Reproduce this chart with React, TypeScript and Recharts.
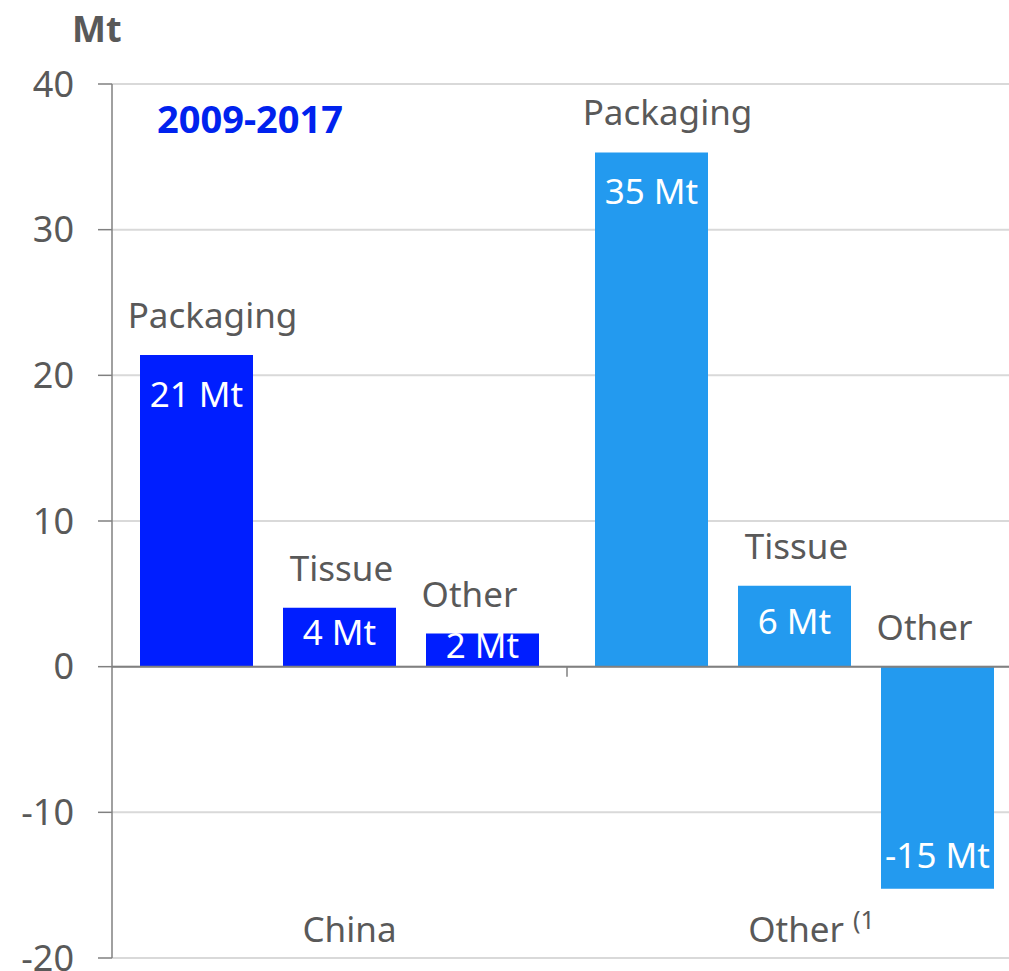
import React from 'react';
import { BarChart, Bar, XAxis, YAxis, CartesianGrid, ReferenceLine, LabelList, Cell } from 'recharts';

const groups = ['China', 'Other'];
const groupNotes = ['', '(1'];
const packaging = [21.4, 35.3];
const tissue = [4.05, 5.56];
const other = [2.27, -15.25];
const valueLabels = {
  packaging: ['21 Mt', '35 Mt'],
  tissue: ['4 Mt', '6 Mt'],
  other: ['2 Mt', '-15 Mt'],
};
const yTicks = [-20, -10, 0, 10, 20, 30, 40];
const groupColors = ['#001EFF', '#239AEF'];

const data = groups.map((g, i) => ({
  group: g,
  packaging: packaging[i],
  tissue: tissue[i],
  other: other[i],
}));

const FONT = "'Noto Sans', 'Open Sans', sans-serif";
const GRAY = '#595959';

const CategoryTick = (props: any) => {
  const { x, y, payload } = props;
  const note = groupNotes[payload.index];
  return (
    <text x={x + (note ? 17 : 10)} y={y - 16} textAnchor="middle" fill={GRAY} fontSize={35} fontFamily={FONT}>
      {payload.value}
      {note ? (
        <tspan dx={9} dy={-13} fontSize={25}>
          {note}
        </tspan>
      ) : null}
    </text>
  );
};

const makeLabel = (name: string, key: 'packaging' | 'tissue' | 'other', dx: number) => (props: any) => {
  const { x, y, width, height, index } = props;
  const top = Math.min(y, y + height);
  const bottom = Math.max(y, y + height);
  const h = bottom - top;
  const negative = height < 0 || data[index][key] < 0;
  const cx = x + width / 2;
  const valueY = negative ? bottom - 21 : top + Math.min(52, h / 2 + 8);
  return (
    <g>
      <text x={cx + dx} y={top - 27} textAnchor="middle" fill={GRAY} fontSize={35} fontFamily={FONT}>
        {name}
      </text>
      <text x={cx} y={valueY} textAnchor="middle" fill="#ffffff" fontSize={35} fontFamily={FONT}>
        {valueLabels[key][index]}
      </text>
    </g>
  );
};

export default function App() {
  return (
    <div
      style={{
        position: 'absolute',
        left: 0,
        top: 0,
        width: 1009,
        height: 971,
        overflow: 'hidden',
        background: '#fff',
        fontFamily: FONT,
      }}
    >
      <div style={{ position: 'absolute', left: 72, top: 4, fontSize: 36, fontWeight: 700, color: GRAY }}>
        Mt
      </div>
      <div style={{ position: 'absolute', left: 157, top: 92, fontSize: 38, fontWeight: 700, color: '#0022EE' }}>
        2009-2017
      </div>
      <BarChart
        width={1030}
        height={971}
        data={data}
        margin={{ top: 84, right: 8, bottom: 0, left: 0 }}
        barSize={113}
        barGap={30}
      >
        <CartesianGrid vertical={false} stroke="#d9d9d9" strokeWidth={2} />
        <XAxis
          dataKey="group"
          height={13}
          axisLine={false}
          tickLine={false}
          tickSize={0}
          tickMargin={0}
          tick={<CategoryTick />}
          interval={0}
        />
        <YAxis
          width={112}
          domain={[-20, 40]}
          ticks={yTicks}
          interval={0}
          axisLine={{ stroke: '#808080', strokeWidth: 1.5 }}
          tickLine={{ stroke: '#808080', strokeWidth: 1.5 }}
          tickSize={14}
          tickMargin={24}
          tick={{ fill: GRAY, fontSize: 36, fontFamily: FONT }}
        />
        <Bar dataKey="packaging" isAnimationActive={false}>
          {data.map((_, i) => (
            <Cell key={i} fill={groupColors[i]} />
          ))}
          <LabelList dataKey="packaging" content={makeLabel('Packaging', 'packaging', 16)} />
        </Bar>
        <Bar dataKey="tissue" isAnimationActive={false}>
          {data.map((_, i) => (
            <Cell key={i} fill={groupColors[i]} />
          ))}
          <LabelList dataKey="tissue" content={makeLabel('Tissue', 'tissue', 2)} />
        </Bar>
        <Bar dataKey="other" isAnimationActive={false}>
          {data.map((_, i) => (
            <Cell key={i} fill={groupColors[i]} />
          ))}
          <LabelList dataKey="other" content={makeLabel('Other', 'other', -13)} />
        </Bar>
        <ReferenceLine y={0} stroke="#808080" strokeWidth={2} />
        <ReferenceLine
          segment={[
            { x: 'Other', y: 0 },
            { x: 'Other', y: -0.7 },
          ]}
          position="start"
          stroke="#808080"
          strokeWidth={1.5}
        />
      </BarChart>
    </div>
  );
}
